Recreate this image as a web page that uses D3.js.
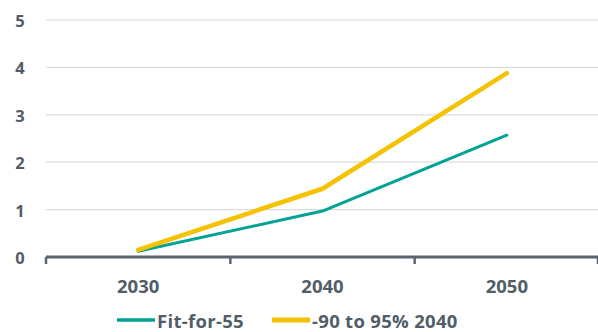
<!DOCTYPE html>
<html>
<head>
<meta charset="utf-8">
<script src="https://cdn.jsdelivr.net/npm/d3@7"></script>
<style>
  html, body { margin: 0; padding: 0; background: #fff; }
  svg text { font-family: "Open Sans", Lato, sans-serif; font-weight: 700; fill: #515e67; }
</style>
</head>
<body>
<svg id="chart" width="598" height="332"></svg>
<script>
// Scenario data
const years = ["2030", "2040", "2050"];
const fitFor55 = [0.12, 0.97, 2.57];
const minus90to95 = [0.15, 1.44, 3.88];
const seriesNames = ["Fit-for-55", "-90 to 95% 2040"];
const seriesColors = ["#00a393", "#f5c200"];
const yTicks = [0, 1, 2, 3, 4, 5];

const svg = d3.select("#chart");
const margin = { left: 46, right: 0, top: 20, bottom: 75 };
const W = 598, H = 332;

const x = d3.scaleBand().domain(years).range([margin.left, W + 1]).padding(0);
const y = d3.scaleLinear().domain([0, 5]).range([257, 20]);

// gridlines
svg.append("g").selectAll("line")
  .data(yTicks.filter(d => d > 0))
  .join("line")
  .attr("x1", margin.left).attr("x2", W)
  .attr("y1", d => y(d)).attr("y2", d => y(d))
  .attr("stroke", "#dcdcdc").attr("stroke-width", 1.2);

// y labels
svg.append("g").selectAll("text")
  .data(yTicks)
  .join("text")
  .attr("x", 20).attr("y", d => y(d))
  .attr("dy", "0.42em")
  .attr("text-anchor", "middle")
  .style("font-size", "16.5px")
  .text(d => d);

// x axis
const xAxis = svg.append("g").attr("transform", `translate(0,${y(0)})`)
  .call(d3.axisBottom(x).tickSize(0).tickFormat(d => d));
xAxis.select(".domain").remove();
xAxis.selectAll("text").attr("dy", 0).attr("y", 36).style("font-size", "18.5px");

svg.append("line")
  .attr("x1", margin.left).attr("x2", W)
  .attr("y1", y(0)).attr("y2", y(0))
  .attr("stroke", "#58656e").attr("stroke-width", 3);

// tick marks at band boundaries
const bounds = years.map(d => x(d)).concat([x(years[years.length - 1]) + x.bandwidth() - 1]);
svg.append("g").selectAll("line")
  .data(bounds)
  .join("line")
  .attr("x1", d => d).attr("x2", d => d)
  .attr("y1", y(0)).attr("y2", y(0) + 7)
  .attr("stroke", "#58656e").attr("stroke-width", 2.5);

// lines
const line = d3.line()
  .x((d, i) => x(years[i]) + x.bandwidth() / 2)
  .y(d => y(d));

const widths = [3, 4.5];
[fitFor55, minus90to95].forEach((vals, i) => {
  svg.append("path")
    .datum(vals)
    .attr("d", line)
    .attr("fill", "none")
    .attr("stroke", seriesColors[i])
    .attr("stroke-width", widths[i])
    .attr("stroke-linecap", "round")
    .attr("stroke-linejoin", "round");
});

// legend
const legendX = [117, 272];
const leg = svg.append("g");
seriesNames.forEach((name, i) => {
  leg.append("line")
    .attr("x1", legendX[i]).attr("x2", legendX[i] + 38)
    .attr("y1", 320).attr("y2", 320)
    .attr("stroke", seriesColors[i]).attr("stroke-width", widths[i] + 0.5);
  leg.append("text")
    .attr("x", legendX[i] + 40).attr("y", 328)
    .style("font-size", "18.5px")
    .style("letter-spacing", "0.3px")
    .text(name);
});
</script>
</body>
</html>
